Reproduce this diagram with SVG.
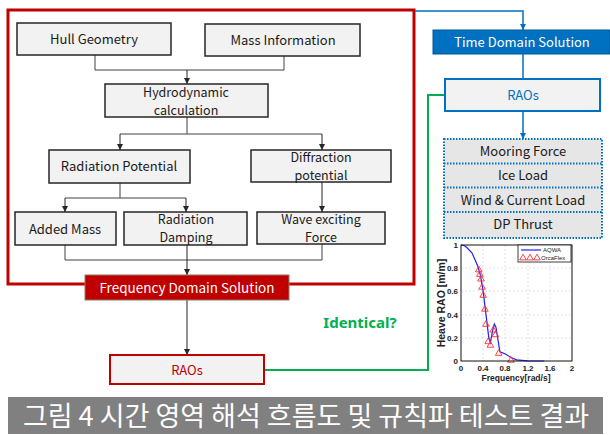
<svg xmlns="http://www.w3.org/2000/svg" width="610" height="435" viewBox="0 0 610 435">
<style>
.t{font-family:"Noto Sans CJK KR","Noto Sans",sans-serif;font-size:13px;fill:#1a1a1a;text-anchor:middle}
.t2{font-size:12.5px}
.box{fill:#f2f2f2;stroke:#262626;stroke-width:1.5}
.c{fill:none;stroke:#404040;stroke-width:1}
.ca{fill:none;stroke:#262626;stroke-width:1;marker-end:url(#ah)}
.b{fill:none;stroke:#0070c0;stroke-width:1.5}
.ba{fill:none;stroke:#0070c0;stroke-width:1.5;marker-end:url(#bh)}
.ax{font-family:"Liberation Sans",Arial,sans-serif;font-weight:bold;font-size:8px;fill:#222}
.grid{stroke:#d0d0d0;stroke-width:0.6;stroke-dasharray:2,2}
</style>
<defs>
<marker id="ah" markerWidth="8" markerHeight="8" refX="7" refY="4" orient="auto" markerUnits="userSpaceOnUse"><path d="M1,1 L7,4 L1,7 Z" fill="#262626"/></marker>
<marker id="bh" markerWidth="8" markerHeight="8" refX="7" refY="4" orient="auto" markerUnits="userSpaceOnUse"><path d="M1,1 L7,4 L1,7 Z" fill="#0070c0"/></marker>
<path id="tri" d="M0,-3.3 L3.3,2.4 L-3.3,2.4 Z" fill="none" stroke="#ff3030" stroke-width="0.9"/>
</defs>

<rect x="8" y="10" width="406" height="274" fill="none" stroke="#c00000" stroke-width="3"/>

<g id="connectors">
<path class="c" d="M95,55 V70 H284 V56"/>
<path class="ca" d="M187,70 V84"/>
<path class="c" d="M187,117 V134 M120,134 H322"/>
<path class="ca" d="M120,134 V150"/>
<path class="ca" d="M322,134 V150"/>
<path class="c" d="M120,183 V198 M65,198 H186"/>
<path class="ca" d="M65,198 V212"/>
<path class="ca" d="M186,198 V212"/>
<path class="ca" d="M322,182 V212"/>
<path class="c" d="M65,245 V260 H322 V244"/>
<path class="ca" d="M187,245 V275"/>
<path class="ca" d="M187,300 V355"/>
<path class="ba" d="M415,11 H523 V30"/>
<path class="b" d="M523,54 V79"/>
<path class="ba" d="M523,111 V139"/>
<path fill="none" stroke="#00b050" stroke-width="2" d="M264,370 H428 V95 H445"/>
</g>

<g id="hull"><rect class="box" x="17" y="23" width="154" height="32"/><text class="t" x="94" y="44">Hull Geometry</text></g>
<g id="mass"><rect class="box" x="205" y="24" width="155" height="32"/><text class="t" x="283" y="45">Mass Information</text></g>
<g id="hydro"><rect class="box" x="105" y="84" width="163" height="33" stroke-width="2.2"/><text class="t t2" x="186" y="97">Hydrodynamic</text><text class="t t2" x="186" y="115">calculation</text></g>
<g id="radpot"><rect class="box" x="49" y="150" width="141" height="33"/><text class="t" x="119" y="171">Radiation Potential</text></g>
<g id="diffpot"><rect class="box" x="251" y="150" width="140" height="32"/><text class="t t2" x="321" y="162">Diffraction</text><text class="t t2" x="321" y="180">potential</text></g>
<g id="addedmass"><rect class="box" x="15" y="212" width="101" height="33"/><text class="t" x="65" y="234">Added Mass</text></g>
<g id="raddamp"><rect class="box" x="124" y="212" width="123" height="33"/><text class="t t2" x="186" y="224">Radiation</text><text class="t t2" x="186" y="242">Damping</text></g>
<g id="wave"><rect class="box" x="257" y="212" width="128" height="32"/><text class="t t2" x="321" y="224">Wave exciting</text><text class="t t2" x="321" y="242">Force</text></g>
<g id="freq"><rect x="85" y="275" width="204" height="25" fill="#c00000" stroke="#8a7a60" stroke-width="1"/><text class="t" x="187" y="293" style="fill:#fff;font-size:13.5px">Frequency Domain Solution</text></g>
<g id="raos-f"><rect x="110" y="355" width="154" height="29" fill="#f2f2f2" stroke="#c00000" stroke-width="2"/><text class="t" x="187" y="375" style="fill:#c00000">RAOs</text></g>
<g id="time"><rect x="433" y="30" width="177" height="24" fill="#0070c0" stroke="#005a9a" stroke-width="1"/><text class="t" x="522" y="47" style="fill:#fff">Time Domain Solution</text></g>
<g id="raos-t"><rect x="445" y="79" width="155" height="32" fill="#f2f2f2" stroke="#0070c0" stroke-width="2"/><text class="t" x="523" y="100" style="fill:#0070c0">RAOs</text></g>
<g id="loads">
<rect x="444" y="139" width="158" height="99" fill="#e6e6e6"/>
<path d="M444,163.5 H602 M444,187.5 H602 M444,212 H602" stroke="#0070c0" stroke-width="2" stroke-dasharray="1.5,1.5"/>
<rect x="444" y="139" width="158" height="99" fill="none" stroke="#0070c0" stroke-width="2" stroke-dasharray="1.5,1.5"/>
<text class="t" x="523" y="156">Mooring Force</text>
<text class="t" x="523" y="180">Ice Load</text>
<text class="t" x="523" y="205">Wind &amp; Current Load</text>
<text class="t" x="523" y="229">DP Thrust</text>
</g>

<text x="360" y="328" style="font-family:'Noto Sans','Noto Sans CJK KR',sans-serif;font-size:15px;font-weight:bold;fill:#00b050;text-anchor:middle">Identical?</text>

<g id="chart">
<path class="grid" d="M483,245 V361 M505,245 V361 M528,245 V361 M550,245 V361 M461,268 H572 M461,291 H572 M461,315 H572 M461,338 H572"/>
<path fill="none" stroke="#2020ff" stroke-width="1.2" d="M461,245 C464,245 466.5,247.3 466.5,247.3 L472.1,253.1 L477.7,265.9 L480.4,275.2 L483.2,291.4 L486,314.6 L488.8,337.8 L490.4,342.4 L492.6,330.8 L494.3,323.9 L496,327.4 L498.2,341.3 L499.9,351.7 L505.4,354 L511,357.5 L516.5,359.8 L527.6,360.8 L544.3,361"/>
<use href="#tri" x="478.8" y="269.4"/><use href="#tri" x="479.9" y="274"/><use href="#tri" x="481" y="278.6"/><use href="#tri" x="482.1" y="286.8"/><use href="#tri" x="483.2" y="294.9"/><use href="#tri" x="484.9" y="308.8"/><use href="#tri" x="486" y="323.9"/><use href="#tri" x="488.2" y="341.3"/><use href="#tri" x="490.4" y="344.8"/><use href="#tri" x="493.2" y="329.7"/><use href="#tri" x="495.4" y="334.3"/><use href="#tri" x="498.7" y="352.9"/><use href="#tri" x="511" y="359.8"/>
<rect x="461" y="245" width="111" height="116" fill="none" stroke="#111" stroke-width="1"/>
<rect x="518" y="245" width="53" height="17" fill="#fff" stroke="#111" stroke-width="0.8"/>
<path d="M521,250 H541" stroke="#2020ff" stroke-width="1.2"/>
<text x="543" y="252" style="font-family:'Liberation Sans',Arial,sans-serif;font-size:6px;fill:#222">AQWA</text>
<use href="#tri" x="523" y="257.5"/><use href="#tri" x="530" y="257.5"/><use href="#tri" x="537" y="257.5"/>
<text x="541" y="259.5" style="font-family:'Liberation Sans',Arial,sans-serif;font-size:6px;fill:#222">OrcaFlex</text>
<g class="ax" text-anchor="end">
<text x="458" y="248">1</text><text x="458" y="271">0.8</text><text x="458" y="294">0.6</text><text x="458" y="318">0.4</text><text x="458" y="341">0.2</text><text x="458" y="364">0</text>
</g>
<g class="ax" text-anchor="middle">
<text x="461" y="371">0</text><text x="483" y="371">0.4</text><text x="505" y="371">0.8</text><text x="528" y="371">1.2</text><text x="550" y="371">1.6</text><text x="572" y="371">2</text>
</g>
<text x="516" y="381" class="ax" text-anchor="middle" style="font-size:8.5px">Frequency[rad/s]</text>
<text transform="translate(445 303) rotate(-90)" class="ax" text-anchor="middle" style="font-size:10.5px">Heave RAO [m/m]</text>
</g>

<rect x="8" y="397" width="595" height="37" fill="#808080"/>
<text x="306" y="426" style="font-family:'Noto Sans CJK KR',sans-serif;font-size:27px;fill:#fff;text-anchor:middle">그림 4 시간 영역 해석 흐름도 및 규칙파 테스트 결과</text>
</svg>
